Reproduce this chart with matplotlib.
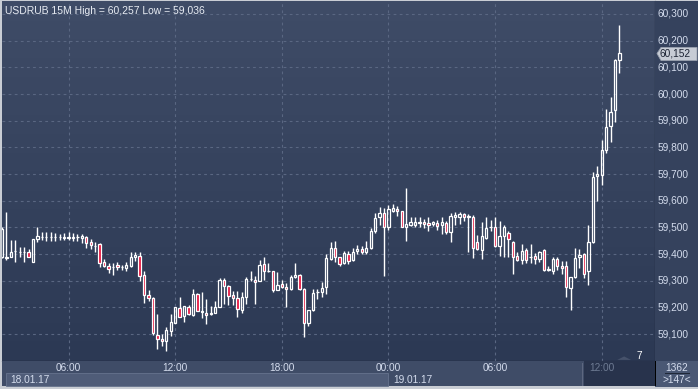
import numpy as np
import matplotlib
matplotlib.use("Agg")
import matplotlib.pyplot as plt
from matplotlib.patches import Rectangle, Polygon
from matplotlib.colors import LinearSegmentedColormap

plt.rcParams['font.family'] = ['Liberation Sans', 'DejaVu Sans']

# ---- USDRUB 15M candles, 18.01.17 02:15 .. 19.01.17 13:00 ----
opens = [59.390, 59.384, 59.388, 59.410, 59.407, 59.407, 59.409, 59.370, 59.456, 59.464,
         59.464, 59.462, 59.462, 59.464, 59.460, 59.460, 59.459, 59.464, 59.460, 59.4625,
         59.446, 59.430, 59.4375, 59.371, 59.356, 59.350, 59.360, 59.350, 59.346, 59.356,
         59.3875, 59.3925, 59.321, 59.246, 59.235, 59.0975, 59.0825, 59.0725, 59.1125, 59.1425,
         59.1975, 59.169, 59.2025, 59.1725, 59.250, 59.184, 59.179, 59.177, 59.179, 59.2025,
         59.3025, 59.281, 59.246, 59.236, 59.190, 59.240, 59.305, 59.3025, 59.300, 59.3625,
         59.335, 59.335, 59.266, 59.2875, 59.277, 59.269, 59.3125, 59.321, 59.269, 59.140,
         59.190, 59.257, 59.259, 59.275, 59.381, 59.421, 59.3875, 59.366, 59.400, 59.3775,
         59.4125, 59.419, 59.406, 59.4225, 59.4875, 59.5375, 59.554, 59.500, 59.5625, 59.569,
         59.5625, 59.500, 59.510, 59.510, 59.515, 59.521, 59.515, 59.5125, 59.515, 59.509,
         59.515, 59.481, 59.540, 59.540, 59.549, 59.540, 59.540, 59.444, 59.415, 59.459,
         59.502, 59.5025, 59.431, 59.466, 59.479, 59.446, 59.394, 59.3775, 59.416, 59.3875,
         59.394, 59.381, 59.415, 59.341, 59.3375, 59.381, 59.355, 59.355, 59.2725, 59.3125,
         59.3875, 59.400, 59.335, 59.4437, 59.691, 59.6975, 59.790, 59.8787, 59.9387, 60.129]
highs = [59.500, 59.559, 59.454, 59.452, 59.425, 59.425, 59.419, 59.457, 59.503, 59.481,
         59.484, 59.484, 59.479, 59.476, 59.479, 59.484, 59.479, 59.474, 59.474, 59.466,
         59.456, 59.444, 59.441, 59.381, 59.365, 59.366, 59.369, 59.360, 59.369, 59.409,
         59.409, 59.409, 59.3375, 59.266, 59.2375, 59.175, 59.100, 59.1275, 59.175, 59.2025,
         59.240, 59.204, 59.210, 59.269, 59.254, 59.256, 59.231, 59.206, 59.225, 59.310,
         59.310, 59.285, 59.2625, 59.2625, 59.256, 59.3125, 59.3375, 59.319, 59.379, 59.390,
         59.366, 59.337, 59.334, 59.301, 59.290, 59.321, 59.366, 59.325, 59.271, 59.190,
         59.269, 59.269, 59.294, 59.400, 59.444, 59.450, 59.390, 59.4125, 59.410, 59.421,
         59.435, 59.431, 59.450, 59.4975, 59.5525, 59.575, 59.5725, 59.585, 59.5875, 59.581,
         59.5625, 59.649, 59.540, 59.5375, 59.5375, 59.531, 59.5375, 59.525, 59.529, 59.5375,
         59.525, 59.554, 59.556, 59.556, 59.554, 59.550, 59.546, 59.4725, 59.519, 59.5375,
         59.529, 59.5375, 59.525, 59.510, 59.4875, 59.450, 59.406, 59.4375, 59.4225, 59.4375,
         59.4025, 59.412, 59.419, 59.354, 59.390, 59.390, 59.374, 59.3725, 59.3125, 59.4225,
         59.4187, 59.405, 59.510, 59.706, 59.7287, 59.8275, 59.9425, 59.990, 60.131, 60.257]
lows = [59.385, 59.378, 59.388, 59.369, 59.388, 59.369, 59.388, 59.369, 59.444, 59.453,
        59.450, 59.450, 59.450, 59.451, 59.451, 59.453, 59.450, 59.450, 59.440, 59.421,
        59.419, 59.409, 59.3525, 59.350, 59.3275, 59.3225, 59.341, 59.341, 59.3375, 59.350,
        59.3725, 59.300, 59.215, 59.2225, 59.0975, 59.0425, 59.056, 59.036, 59.094, 59.1425,
        59.1625, 59.144, 59.172, 59.1675, 59.185, 59.159, 59.1375, 59.170, 59.179, 59.200,
        59.2125, 59.210, 59.210, 59.1625, 59.179, 59.2125, 59.2975, 59.2125, 59.299, 59.301,
        59.331, 59.259, 59.265, 59.271, 59.200, 59.266, 59.310, 59.266, 59.0875, 59.129,
        59.188, 59.2325, 59.2375, 59.250, 59.3775, 59.371, 59.354, 59.3625, 59.3625, 59.375,
        59.400, 59.400, 59.400, 59.419, 59.4775, 59.510, 59.319, 59.491, 59.556, 59.544,
        59.500, 59.450, 59.506, 59.502, 59.502, 59.4975, 59.4875, 59.506, 59.491, 59.475,
        59.475, 59.444, 59.510, 59.5125, 59.5225, 59.406, 59.384, 59.415, 59.381, 59.456,
        59.4875, 59.425, 59.394, 59.3875, 59.3875, 59.325, 59.375, 59.3625, 59.365, 59.365,
        59.3625, 59.369, 59.335, 59.3375, 59.325, 59.341, 59.326, 59.240, 59.191, 59.310,
        59.3475, 59.310, 59.285, 59.441, 59.600, 59.659, 59.7787, 59.8212, 59.896, 60.079]
closes = [59.495, 59.390, 59.409, 59.412, 59.408, 59.408, 59.390, 59.455, 59.466, 59.465,
          59.465, 59.463, 59.463, 59.465, 59.465, 59.464, 59.464, 59.465, 59.466, 59.441,
          59.434, 59.431, 59.365, 59.354, 59.3425, 59.351, 59.350, 59.351, 59.360, 59.390,
          59.3975, 59.319, 59.246, 59.234, 59.1025, 59.080, 59.0725, 59.115, 59.146, 59.2025,
          59.165, 59.204, 59.175, 59.250, 59.1875, 59.185, 59.171, 59.178, 59.2025, 59.3025,
          59.281, 59.241, 59.234, 59.194, 59.240, 59.306, 59.306, 59.296, 59.359, 59.3375,
          59.336, 59.265, 59.284, 59.275, 59.269, 59.315, 59.321, 59.269, 59.141, 59.190,
          59.2525, 59.258, 59.271, 59.385, 59.4225, 59.3875, 59.3625, 59.404, 59.375, 59.409,
          59.419, 59.406, 59.4225, 59.4875, 59.535, 59.5525, 59.500, 59.569, 59.5725, 59.560,
          59.500, 59.5125, 59.519, 59.521, 59.521, 59.5125, 59.509, 59.521, 59.506, 59.519,
          59.481, 59.544, 59.5475, 59.550, 59.5375, 59.541, 59.4225, 59.419, 59.469, 59.4975,
          59.503, 59.429, 59.469, 59.5025, 59.456, 59.3875, 59.379, 59.410, 59.379, 59.3885,
          59.381, 59.409, 59.341, 59.342, 59.381, 59.354, 59.346, 59.275, 59.3125, 59.384,
          59.396, 59.325, 59.4437, 59.6887, 59.699, 59.790, 59.876, 59.931, 60.129, 60.152]

price_ticks = [59.1, 59.2, 59.3, 59.4, 59.5, 59.6, 59.7, 59.8, 59.9, 60.0, 60.1, 60.2, 60.3]
time_tick_bars = [15, 39, 63, 87, 111, 135]
time_tick_labels = ['06:00', '12:00', '18:00', '00:00', '06:00', '12:00']
title = 'USDRUB 15M High = 60,257 Low = 59,036'
last_price = 60.152

W, H = 698, 389
BG_TOP = '#3f4c67'
BG_BOT = '#2c3954'
RED = '#e5123c'
TXT = '#d4dced'
FS = 7.3


def fx(px):
    return px / W


def fy(py):
    return 1 - py / H


fig = plt.figure(figsize=(W / 100, H / 100), dpi=100)
fig.patch.set_facecolor('#c9cdd4')

# plot area: x 2..655, y 1..361 (pixels from top-left)
L_, R_, T_, B_ = 2, 655, 1, 361
ax = fig.add_axes([fx(L_), fy(B_), fx(R_ - L_), (B_ - T_) / H])
ax.set_xlim(0.02, 147.0)
ax.set_ylim(60.3 - (B_ - 14) / 266.7, 60.3 + (14 - T_) / 266.7)

# gradient background
grad = np.linspace(0, 1, 256).reshape(-1, 1)
cmap = LinearSegmentedColormap.from_list('bg', [BG_BOT, BG_TOP])
ax.imshow(grad, aspect='auto', cmap=cmap, origin='lower',
          extent=[*ax.get_xlim(), *ax.get_ylim()], zorder=0)

# right price panel
fig.patches.append(Rectangle((fx(R_), fy(B_)), fx(W - R_), (B_ - T_) / H,
                             transform=fig.transFigure, facecolor='#35425d',
                             edgecolor='none', zorder=0))

grid_kw = dict(color='#5a6782', linewidth=0.8, linestyle=(0, (2.5, 3)), zorder=1)
for p in price_ticks:
    ax.axhline(p, **grid_kw)
for b in time_tick_bars:
    ax.axvline(b, **grid_kw)

# candles
w = 0.52
for i in range(len(opens)):
    o, h, l, c = opens[i], highs[i], lows[i], closes[i]
    top, bot = max(o, c), min(o, c)
    ax.vlines(i, top, h, color='white', linewidth=1.0, zorder=3)
    ax.vlines(i, l, bot, color='white', linewidth=1.0, zorder=3)
    face = RED if c < o else 'none'
    ax.add_patch(Rectangle((i - w / 2, bot), w, max(top - bot, 0.0005),
                           facecolor=face, edgecolor='white', linewidth=0.9, zorder=4))

ax.set_xticks([])
ax.set_yticks([])
for s in ax.spines.values():
    s.set_visible(False)
ax.spines['right'].set_visible(True)
ax.spines['right'].set_color('black')
ax.spines['bottom'].set_visible(True)
ax.spines['bottom'].set_color('black')

ax.text(0.004, 0.987, title, transform=ax.transAxes, ha='left', va='top',
        fontsize=FS + 0.2, color='#e8ecf3')

# price labels on the right
for p in price_ticks:
    ypx = 14 + (60.3 - p) * 266.7
    fig.text(fx(658), fy(ypx), f'{p:.3f}'.replace('.', ','), ha='left', va='center',
             fontsize=FS, color=TXT)

# last price tag
ypx = 14 + (60.3 - last_price) * 266.7
tag = Polygon([(fx(657), fy(ypx)), (fx(661), fy(ypx - 6)), (fx(697), fy(ypx - 6)),
               (fx(697), fy(ypx + 7)), (fx(661), fy(ypx + 7))], closed=True,
              transform=fig.transFigure, facecolor='#c7ccd5', edgecolor='#9aa2b0',
              linewidth=0.6, zorder=5)
fig.patches.append(tag)
fig.text(fx(660), fy(ypx), f'{last_price:.3f}'.replace('.', ','), ha='left', va='center',
         fontsize=FS, color='#1c2333', zorder=6)

# bottom time panel
fig.patches.append(Rectangle((fx(2), fy(386)), fx(653), 25 / H, transform=fig.transFigure,
                             facecolor='#3f4c67', edgecolor='none', zorder=0))
fig.patches.append(Rectangle((fx(6), fy(386)), fx(382), 13 / H, transform=fig.transFigure,
                             facecolor='#4f5c78', edgecolor='#66738d', linewidth=0.6, zorder=1))
fig.patches.append(Rectangle((fx(584), fy(386)), fx(71), 25 / H, transform=fig.transFigure,
                             facecolor='#28334c', edgecolor='none', zorder=1))
fig.patches.append(Rectangle((fx(582), fy(386)), fx(1), 23 / H, transform=fig.transFigure,
                             facecolor='#5d6780', edgecolor='none', zorder=1))
fig.patches.append(Rectangle((fx(655), fy(387)), fx(43), 26 / H, transform=fig.transFigure,
                             facecolor='#4a5874', edgecolor='none', zorder=1))
fig.patches.append(Rectangle((fx(655), fy(386)), fx(1), 25 / H, transform=fig.transFigure,
                             facecolor='black', edgecolor='none', zorder=2))

x0px = 1.9
for b, lab in zip(time_tick_bars, time_tick_labels):
    xpx = x0px + b * 4.442
    col = '#6e7b93' if xpx > 584 else TXT
    fig.text(fx(xpx), fy(368), lab, ha='center', va='center', fontsize=FS, color=col,
             zorder=3)
fig.text(fx(10), fy(380), '18.01.17', ha='left', va='center', fontsize=FS, color=TXT, zorder=3)
fig.text(fx(393), fy(380), '19.01.17', ha='left', va='center', fontsize=FS, color=TXT, zorder=3)

fig.text(fx(677), fy(368), '1362', ha='center', va='center', fontsize=FS, color=TXT, zorder=3)
fig.patches.append(Rectangle((fx(665), fy(374)), fx(25), 1 / H, transform=fig.transFigure,
                             facecolor='#1f2838', edgecolor='none', zorder=3))
fig.text(fx(677), fy(380), '>147<', ha='center', va='center', fontsize=FS, color=TXT, zorder=3)

# small marker near the bottom right of the plot
ax.text(143.4, 59.018, '7', ha='center', va='center', fontsize=FS, color='white', zorder=5)
ax.add_patch(Polygon([(138.5, 59.003), (141.6, 59.003), (140.05, 59.016)], closed=True,
                     facecolor='#46526b', edgecolor='none', zorder=5))

fig.savefig('out.png', dpi=100)
